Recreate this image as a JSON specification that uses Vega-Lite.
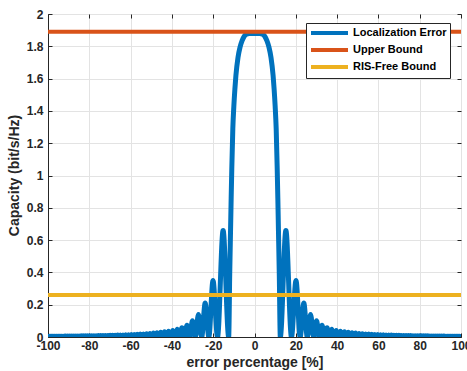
{
  "$schema": "https://vega.github.io/schema/vega-lite/v6.json",
  "width": 413,
  "height": 323,
  "autosize": {"type": "none"},
  "padding": {"left": 48, "top": 14, "right": 6, "bottom": 34},
  "background": "white",
  "config": {
    "font": "Liberation Sans",
    "view": {"stroke": "#262626", "strokeWidth": 1},
    "axis": {
      "labelFont": "Liberation Sans",
      "labelFontSize": 12,
      "labelFontWeight": "bold",
      "labelColor": "#262626",
      "labelFlush": false,
      "titleFont": "Liberation Sans",
      "titleFontSize": 14,
      "titleFontWeight": "bold",
      "titleColor": "#262626",
      "tickColor": "#262626",
      "domainColor": "#262626",
      "gridColor": "#e3e3e3",
      "gridWidth": 1,
      "tickSize": -4
    }
  },
  "datasets": {
    "curve": [
      {"x":-100,"y":0.002},{"x":-99.75,"y":0},{"x":-99.33,"y":0.0046},{"x":-98.91,"y":0},{"x":-98.49,"y":0.0047},{"x":-98.07,"y":0},{"x":-97.65,"y":0.0048},{"x":-97.22,"y":0},{"x":-96.79,"y":0.0049},{"x":-96.36,"y":0},{"x":-95.93,"y":0.005},{"x":-95.5,"y":0},{"x":-95.06,"y":0.0051},{"x":-94.63,"y":0},{"x":-94.19,"y":0.0052},{"x":-93.74,"y":0},{"x":-93.3,"y":0.0053},{"x":-92.85,"y":0},{"x":-92.41,"y":0.0054},{"x":-91.96,"y":0},{"x":-91.5,"y":0.0055},{"x":-91.05,"y":0},{"x":-90.59,"y":0.0056},{"x":-90.13,"y":0},{"x":-89.67,"y":0.0058},{"x":-89.21,"y":0},{"x":-88.74,"y":0.006},{"x":-88.27,"y":0},{"x":-87.8,"y":0.0062},{"x":-87.33,"y":0},{"x":-86.85,"y":0.0064},{"x":-86.37,"y":0},{"x":-85.89,"y":0.0066},{"x":-85.41,"y":0},{"x":-84.92,"y":0.0068},{"x":-84.43,"y":0},{"x":-83.93,"y":0.007},{"x":-83.44,"y":0},{"x":-82.94,"y":0.0072},{"x":-82.44,"y":0},{"x":-81.93,"y":0.0074},{"x":-81.42,"y":0},{"x":-80.91,"y":0.0076},{"x":-80.4,"y":0},{"x":-79.88,"y":0.0078},{"x":-79.36,"y":0},{"x":-78.84,"y":0.008},{"x":-78.31,"y":0},{"x":-77.78,"y":0.0082},{"x":-77.24,"y":0},{"x":-76.7,"y":0.0085},{"x":-76.16,"y":0},{"x":-75.61,"y":0.0088},{"x":-75.06,"y":0},{"x":-74.51,"y":0.0091},{"x":-73.95,"y":0},{"x":-73.38,"y":0.0094},{"x":-72.82,"y":0},{"x":-72.24,"y":0.0097},{"x":-71.67,"y":0},{"x":-71.08,"y":0.01},{"x":-70.5,"y":0},{"x":-69.91,"y":0.0105},{"x":-69.31,"y":0},{"x":-68.71,"y":0.011},{"x":-68.1,"y":0},{"x":-67.49,"y":0.0115},{"x":-66.87,"y":0},{"x":-66.25,"y":0.012},{"x":-65.62,"y":0},{"x":-64.98,"y":0.0125},{"x":-64.34,"y":0},{"x":-63.69,"y":0.013},{"x":-63.04,"y":0},{"x":-62.38,"y":0.0135},{"x":-61.71,"y":0},{"x":-61.03,"y":0.014},{"x":-60.35,"y":0},{"x":-59.66,"y":0.015},{"x":-58.96,"y":0},{"x":-58.25,"y":0.016},{"x":-57.53,"y":0},{"x":-56.81,"y":0.017},{"x":-56.07,"y":0},{"x":-55.33,"y":0.018},{"x":-54.57,"y":0},{"x":-53.81,"y":0.019},{"x":-53.03,"y":0},{"x":-52.24,"y":0.02},{"x":-51.44,"y":0},{"x":-50.63,"y":0.022},{"x":-49.8,"y":0},{"x":-48.96,"y":0.024},{"x":-48.1,"y":0},{"x":-47.23,"y":0.026},{"x":-46.35,"y":0},{"x":-45.44,"y":0.029},{"x":-44.52,"y":0},{"x":-43.58,"y":0.032},{"x":-42.61,"y":0},{"x":-41.63,"y":0.036},{"x":-40.62,"y":0},{"x":-39.59,"y":0.041},{"x":-38.52,"y":0},{"x":-37.43,"y":0.048},{"x":-36.3,"y":0},{"x":-35.14,"y":0.058},{"x":-33.94,"y":0},{"x":-32.7,"y":0.072},{"x":-31.4,"y":0},{"x":-30.05,"y":0.1},{"x":-28.64,"y":0},{"x":-27.15,"y":0.14},{"x":-25.57,"y":0},{"x":-23.9,"y":0.21},{"x":-22.1,"y":0},{"x":-20.1,"y":0.35},{"x":-17.9,"y":0},{"x":-15.2,"y":0.66},{"x":-12.5,"y":0},
      {"x":-12,"y":0.39},{"x":-11.6,"y":0.66},{"x":-11.3,"y":0.86},{"x":-11,"y":1.04},{"x":-10.5,"y":1.29},{"x":-10,"y":1.43},{"x":-9.5,"y":1.535},{"x":-9,"y":1.62},{"x":-8,"y":1.73},{"x":-7,"y":1.795},{"x":-6,"y":1.835},{"x":-5,"y":1.862},{"x":-4,"y":1.875},{"x":-2.5,"y":1.88},{"x":0,"y":1.88},{"x":2.5,"y":1.88},{"x":4,"y":1.875},{"x":5,"y":1.862},{"x":6,"y":1.835},{"x":7,"y":1.795},{"x":8,"y":1.73},{"x":9,"y":1.62},{"x":9.5,"y":1.535},{"x":10,"y":1.43},{"x":10.5,"y":1.29},{"x":11,"y":1.04},{"x":11.3,"y":0.86},{"x":11.6,"y":0.66},{"x":12,"y":0.39},
      {"x":12.5,"y":0},{"x":15.2,"y":0.66},{"x":17.9,"y":0},{"x":20.1,"y":0.35},{"x":22.1,"y":0},{"x":23.9,"y":0.21},{"x":25.57,"y":0},{"x":27.15,"y":0.14},{"x":28.64,"y":0},{"x":30.05,"y":0.1},{"x":31.4,"y":0},{"x":32.7,"y":0.072},{"x":33.94,"y":0},{"x":35.14,"y":0.058},{"x":36.3,"y":0},{"x":37.43,"y":0.048},{"x":38.52,"y":0},{"x":39.59,"y":0.041},{"x":40.62,"y":0},{"x":41.63,"y":0.036},{"x":42.61,"y":0},{"x":43.58,"y":0.032},{"x":44.52,"y":0},{"x":45.44,"y":0.029},{"x":46.35,"y":0},{"x":47.23,"y":0.026},{"x":48.1,"y":0},{"x":48.96,"y":0.024},{"x":49.8,"y":0},{"x":50.63,"y":0.022},{"x":51.44,"y":0},{"x":52.24,"y":0.02},{"x":53.03,"y":0},{"x":53.81,"y":0.019},{"x":54.57,"y":0},{"x":55.33,"y":0.018},{"x":56.07,"y":0},{"x":56.81,"y":0.017},{"x":57.53,"y":0},{"x":58.25,"y":0.016},{"x":58.96,"y":0},{"x":59.66,"y":0.015},{"x":60.35,"y":0},{"x":61.03,"y":0.014},{"x":61.71,"y":0},{"x":62.38,"y":0.0135},{"x":63.04,"y":0},{"x":63.69,"y":0.013},{"x":64.34,"y":0},{"x":64.98,"y":0.0125},{"x":65.62,"y":0},{"x":66.25,"y":0.012},{"x":66.87,"y":0},{"x":67.49,"y":0.0115},{"x":68.1,"y":0},{"x":68.71,"y":0.011},{"x":69.31,"y":0},{"x":69.91,"y":0.0105},{"x":70.5,"y":0},{"x":71.08,"y":0.01},{"x":71.67,"y":0},{"x":72.24,"y":0.0097},{"x":72.82,"y":0},{"x":73.38,"y":0.0094},{"x":73.95,"y":0},{"x":74.51,"y":0.0091},{"x":75.06,"y":0},{"x":75.61,"y":0.0088},{"x":76.16,"y":0},{"x":76.7,"y":0.0085},{"x":77.24,"y":0},{"x":77.78,"y":0.0082},{"x":78.31,"y":0},{"x":78.84,"y":0.008},{"x":79.36,"y":0},{"x":79.88,"y":0.0078},{"x":80.4,"y":0},{"x":80.91,"y":0.0076},{"x":81.42,"y":0},{"x":81.93,"y":0.0074},{"x":82.44,"y":0},{"x":82.94,"y":0.0072},{"x":83.44,"y":0},{"x":83.93,"y":0.007},{"x":84.43,"y":0},{"x":84.92,"y":0.0068},{"x":85.41,"y":0},{"x":85.89,"y":0.0066},{"x":86.37,"y":0},{"x":86.85,"y":0.0064},{"x":87.33,"y":0},{"x":87.8,"y":0.0062},{"x":88.27,"y":0},{"x":88.74,"y":0.006},{"x":89.21,"y":0},{"x":89.67,"y":0.0058},{"x":90.13,"y":0},{"x":90.59,"y":0.0056},{"x":91.05,"y":0},{"x":91.5,"y":0.0055},{"x":91.96,"y":0},{"x":92.41,"y":0.0054},{"x":92.85,"y":0},{"x":93.3,"y":0.0053},{"x":93.74,"y":0},{"x":94.19,"y":0.0052},{"x":94.63,"y":0},{"x":95.06,"y":0.0051},{"x":95.5,"y":0},{"x":95.93,"y":0.005},{"x":96.36,"y":0},{"x":96.79,"y":0.0049},{"x":97.22,"y":0},{"x":97.65,"y":0.0048},{"x":98.07,"y":0},{"x":98.49,"y":0.0047},{"x":98.91,"y":0},{"x":99.33,"y":0.0046},{"x":99.75,"y":0},{"x":100,"y":0.002}
    ],
    "bounds": [
      {"x": -100, "y": 1.89, "s": "Upper Bound"},
      {"x": 100, "y": 1.89, "s": "Upper Bound"},
      {"x": -100, "y": 0.26, "s": "RIS-Free Bound"},
      {"x": 100, "y": 0.26, "s": "RIS-Free Bound"}
    ]
  },
  "layer": [
    {
      "data": {"name": "curve"},
      "mark": {"type": "line", "strokeWidth": 5, "interpolate": "monotone", "strokeJoin": "round", "strokeCap": "round", "clip": true},
      "encoding": {
        "x": {
          "field": "x", "type": "quantitative",
          "scale": {"domain": [-100, 100], "nice": false, "zero": false},
          "axis": {
            "orient": "bottom",
            "values": [-100, -80, -60, -40, -20, 0, 20, 40, 60, 80, 100],
            "labelExpr": "replace(datum.label, '−', '-')",
            "title": "error percentage [%]",
            "grid": true,
            "labelPadding": 7,
            "titleBaseline": "alphabetic",
            "titleY": 29
          }
        },
        "y": {
          "field": "y", "type": "quantitative",
          "scale": {"domain": [0, 2], "nice": false},
          "axis": {
            "orient": "left",
            "values": [0, 0.2, 0.4, 0.6, 0.8, 1, 1.2, 1.4, 1.6, 1.8, 2],
            "format": "~g",
            "title": "Capacity (bit/s/Hz)",
            "grid": true,
            "labelPadding": 9,
            "titleBaseline": "alphabetic",
            "titleX": -30,
            "titleY": 161
          }
        },
        "color": {
          "datum": "Localization Error",
          "type": "nominal",
          "scale": {
            "domain": ["Localization Error", "Upper Bound", "RIS-Free Bound"],
            "range": ["#0072BD", "#D95319", "#EDB120"]
          },
          "legend": {
            "title": null,
            "orient": "none",
            "legendX": 258,
            "legendY": 9,
            "symbolType": "M-1,0H6.4",
            "symbolSize": 100,
            "symbolStrokeWidth": 4,
            "labelFont": "Liberation Sans",
            "labelFontSize": 11,
            "labelFontWeight": "bold",
            "labelColor": "#000000",
            "labelOffset": 30,
            "rowPadding": 1,
            "padding": 3,
            "strokeColor": "#262626",
            "fillColor": "white"
          }
        }
      }
    },
    {
      "data": {"name": "bounds"},
      "mark": {"type": "line", "strokeWidth": 4, "clip": true},
      "encoding": {
        "x": {
          "field": "x", "type": "quantitative",
          "axis": {"orient": "top", "values": [-100, -80, -60, -40, -20, 0, 20, 40, 60, 80, 100], "labels": false, "title": null, "grid": false, "domain": false}
        },
        "y": {
          "field": "y", "type": "quantitative",
          "axis": {"orient": "right", "values": [0, 0.2, 0.4, 0.6, 0.8, 1, 1.2, 1.4, 1.6, 1.8, 2], "labels": false, "title": null, "grid": false, "domain": false}
        },
        "color": {"field": "s", "type": "nominal", "legend": {"title": null}}
      }
    }
  ],
  "resolve": {"axis": {"x": "independent", "y": "independent"}}
}
